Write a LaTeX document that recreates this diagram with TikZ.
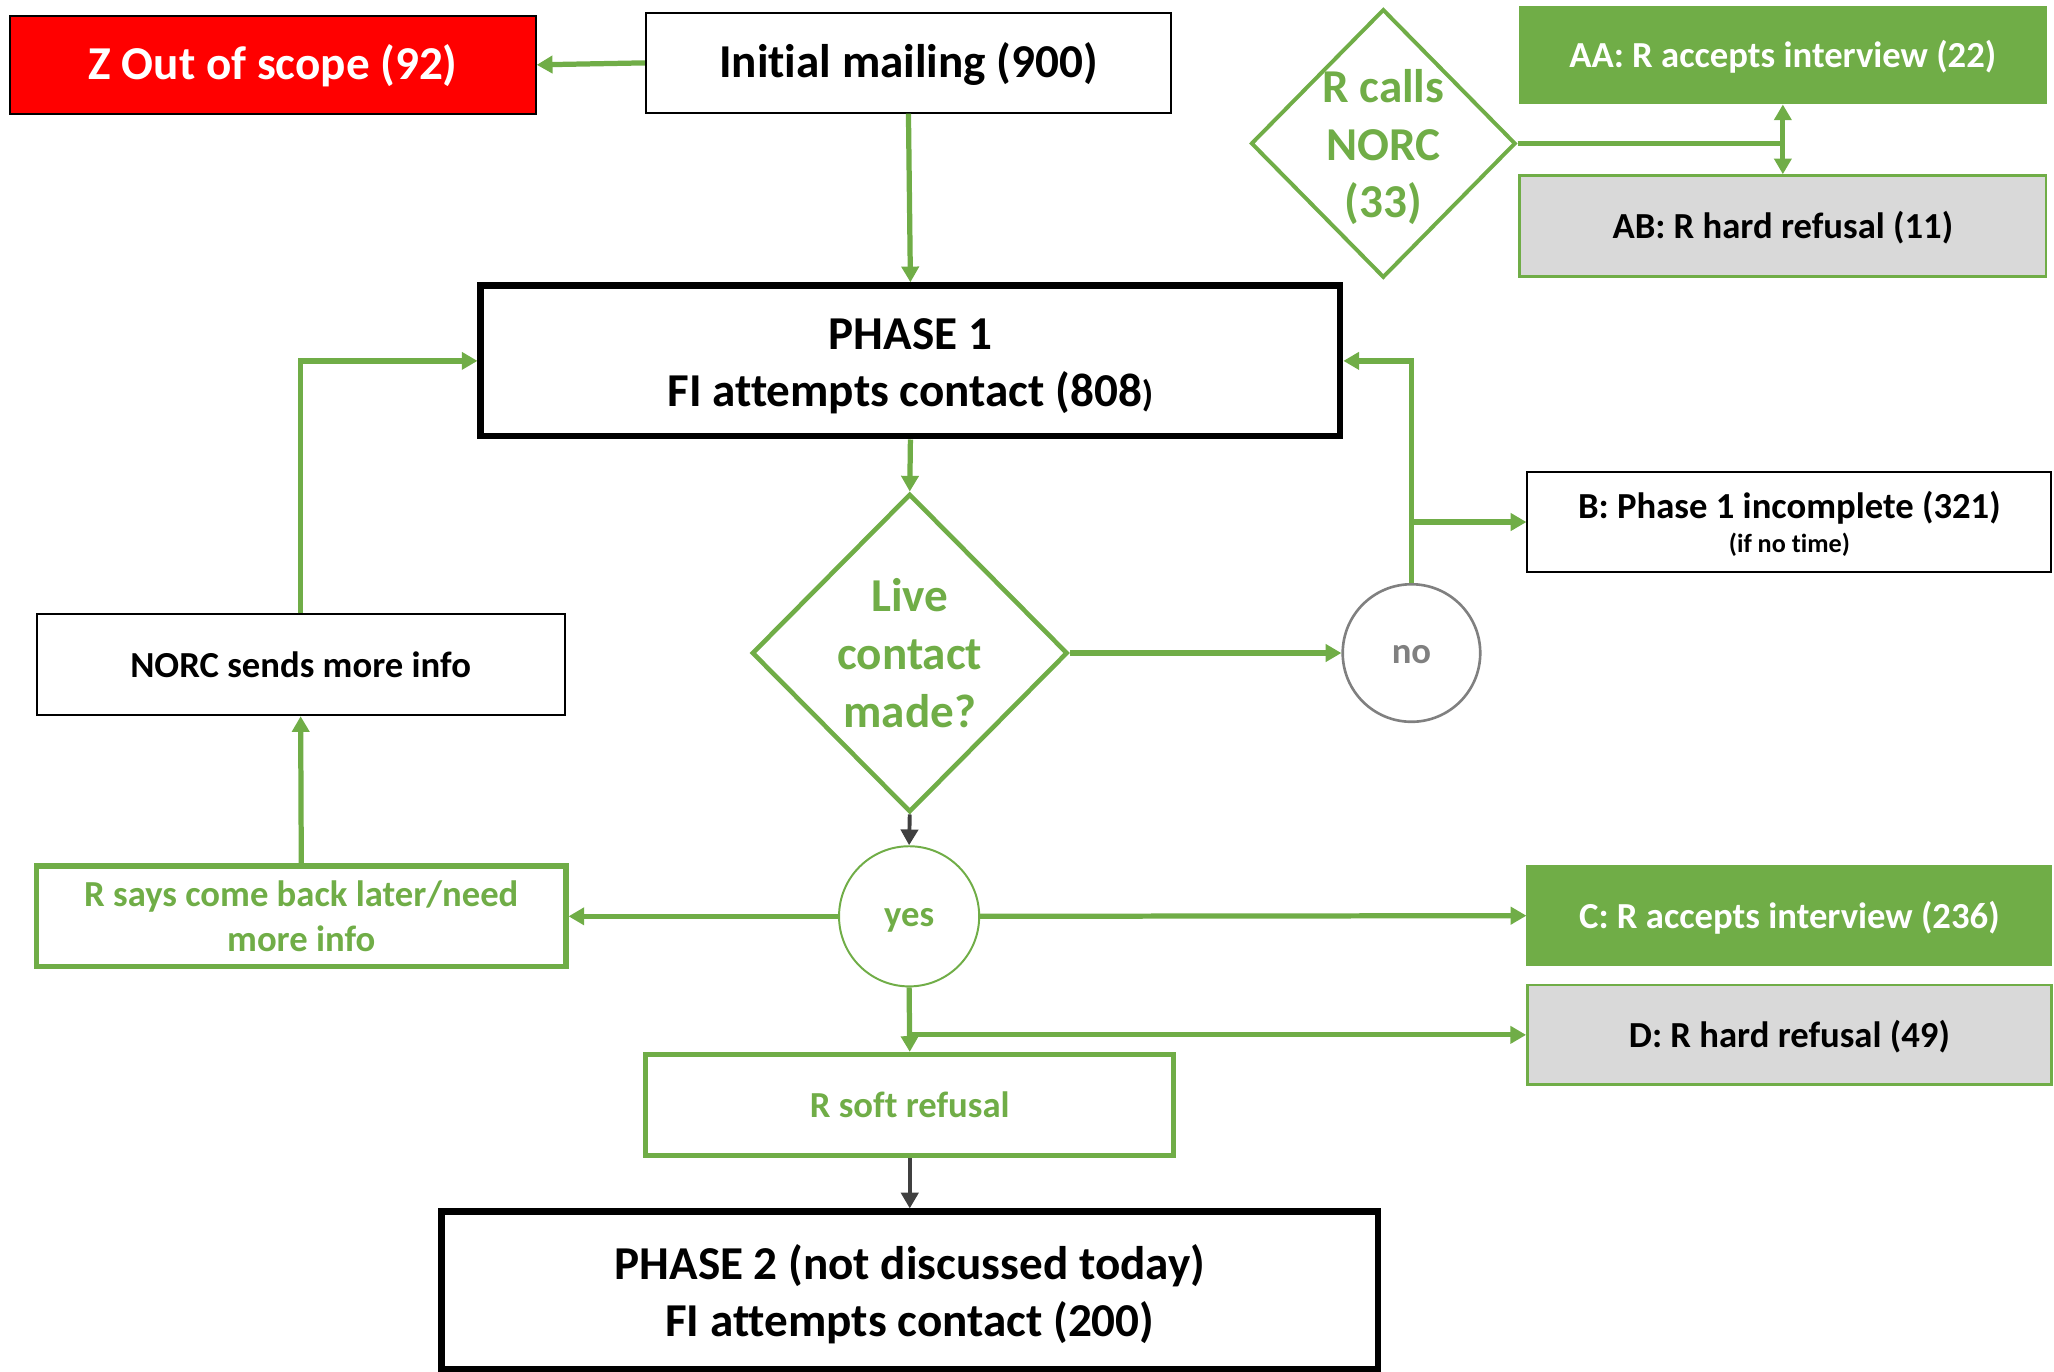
\documentclass[tikz,border=0pt]{standalone}
\usepackage{fontspec}
\setmainfont{Carlito}[Ligatures=CommonOff]
\usetikzlibrary{shapes.geometric}
\usetikzlibrary{arrows.meta}
\usetikzlibrary{calc}
\definecolor{norcgreen}{HTML}{70AD47}
\definecolor{boxgray}{HTML}{D9D9D9}
\definecolor{arrowgray}{HTML}{404040}
\definecolor{circlegray}{HTML}{808080}

\begin{document}
\begin{tikzpicture}[x=1pt,y=-1pt,
  big/.style={font=\fontsize{36}{44}\selectfont\bfseries},
  small/.style={font=\fontsize{28}{34}\selectfont\bfseries},
  bigline/.style={big,text height=30pt,text depth=7pt},
  smallline/.style={small,text height=25pt,text depth=6pt},
  box/.style={draw=black,line width=1.5pt,minimum width=401pt,minimum height=76pt,align=center,inner sep=0pt},
  gbox/.style={box,draw=norcgreen,line width=4pt,text=norcgreen},
  phase/.style={box,line width=5pt,big},
  dmd/.style={diamond,draw=norcgreen,line width=3.5pt,inner sep=0pt},
  ring/.style={circle,smallline,text height=20pt,text depth=4pt,inner sep=0pt},
  gline/.style={norcgreen,line width=4pt},
  garrow/.style={gline,-{Triangle[length=12pt,width=13pt]}},
  darrow/.style={arrowgray,line width=3pt,-{Triangle[length=12pt,width=13pt]}}]
\useasboundingbox (0,0) rectangle (1568,1047);
% top row
\node[box,bigline,fill=red,text=white,minimum height=75pt] (zout) at (208.5,49.5) {Z Out of scope (92)};
\node[box,bigline] (mail) at (693.5,48) {Initial mailing (900)};
\node[phase,text height=78pt,text depth=8pt,minimum width=656pt,minimum height=115pt] (ph1) at (695,275.5) {PHASE 1\\FI attempts contact (808{\fontsize{28}{34}\selectfont)}};
% R calls NORC
\node[dmd,line width=3pt,minimum width=202pt,minimum height=205pt,
  label={[big,norcgreen,align=center,yshift=-3pt]center:R calls\\NORC\\(33)}] (calls) at (1056,109.5) {};
\node[box,smallline,draw=norcgreen,fill=norcgreen,text=white,minimum width=402pt,minimum height=74pt] (aa) at (1361,42) {AA: R accepts interview (22)};
\node[box,smallline,draw=norcgreen,line width=2pt,fill=boxgray,minimum width=402pt,minimum height=77pt] (ab) at (1361,172.5) {AB: R hard refusal (11)};
% middle
\node[dmd,minimum width=241pt,minimum height=243pt,
  label={[big,norcgreen,align=center]center:Live\\contact\\made?}] (live) at (694.5,498.5) {};
\node[ring,draw=circlegray,line width=2pt,text=circlegray,minimum size=105pt] (no) at (1077.5,498.5) {no};
\node[box,small,text height=52pt,text depth=5pt,minimum width=400pt,minimum height=77pt] (b) at (1366,398.5) {B: Phase 1 incomplete (321)\\[-8pt]{\fontsize{20}{24}\selectfont (if no time)}};
\node[box,smallline,minimum width=403pt,minimum height=77pt] (norc) at (229.5,507.5) {NORC sends more info};
% lower part
\node[ring,draw=norcgreen,line width=1.5pt,text=norcgreen,minimum size=107pt] (yes) at (694,699.5) {yes};
\node[gbox,small,minimum width=404pt,minimum height=77pt] (later) at (230,699.5) {R says come back later/need\\more info};
\node[box,smallline,draw=norcgreen,fill=norcgreen,text=white,minimum width=400pt] (c) at (1366,699) {C: R accepts interview (236)};
\node[box,smallline,draw=norcgreen,line width=2pt,fill=boxgray,minimum width=400pt] (d) at (1366,790) {D: R hard refusal (49)};
\node[gbox,smallline,minimum width=403pt,minimum height=77pt] (soft) at (694.5,843.5) {R soft refusal};
\node[phase,text height=79pt,text depth=8pt,minimum width=715pt,minimum height=120pt] (ph2) at (694.5,985) {PHASE 2 (not discussed today)\\FI attempts contact (200)};
% connectors
\draw[garrow] (mail.west) -- (zout.east);
\draw[garrow] (mail.south) -- (ph1.north);
\draw[gline] (calls.east) -- (calls.east -| aa.south);
\draw[gline,{Triangle[length=12pt,width=13pt]}-{Triangle[length=12pt,width=13pt]}] (aa.south) -- (ab.north);
\draw[garrow] (ph1.south) -- (live.north);
\draw[garrow] (live.east) -- (no.west);
\draw[garrow] (no.north) |- (ph1.east);
\draw[garrow] (no.north |- b.west) -- (b.west);
\draw[garrow] (norc.north) |- (ph1.west);
\draw[darrow] (live.south) -- (yes.north);
\draw[garrow] (yes.west) -- (later.east);
\draw[garrow] (later.north) -- (norc.south);
\draw[garrow] (yes.east) -- (c.west);
\draw[garrow] (yes.south) -- (soft.north);
\draw[garrow] (yes.south |- d.west) -- (d.west);
\draw[darrow] (soft.south) -- (ph2.north);
\end{tikzpicture}
\end{document}
